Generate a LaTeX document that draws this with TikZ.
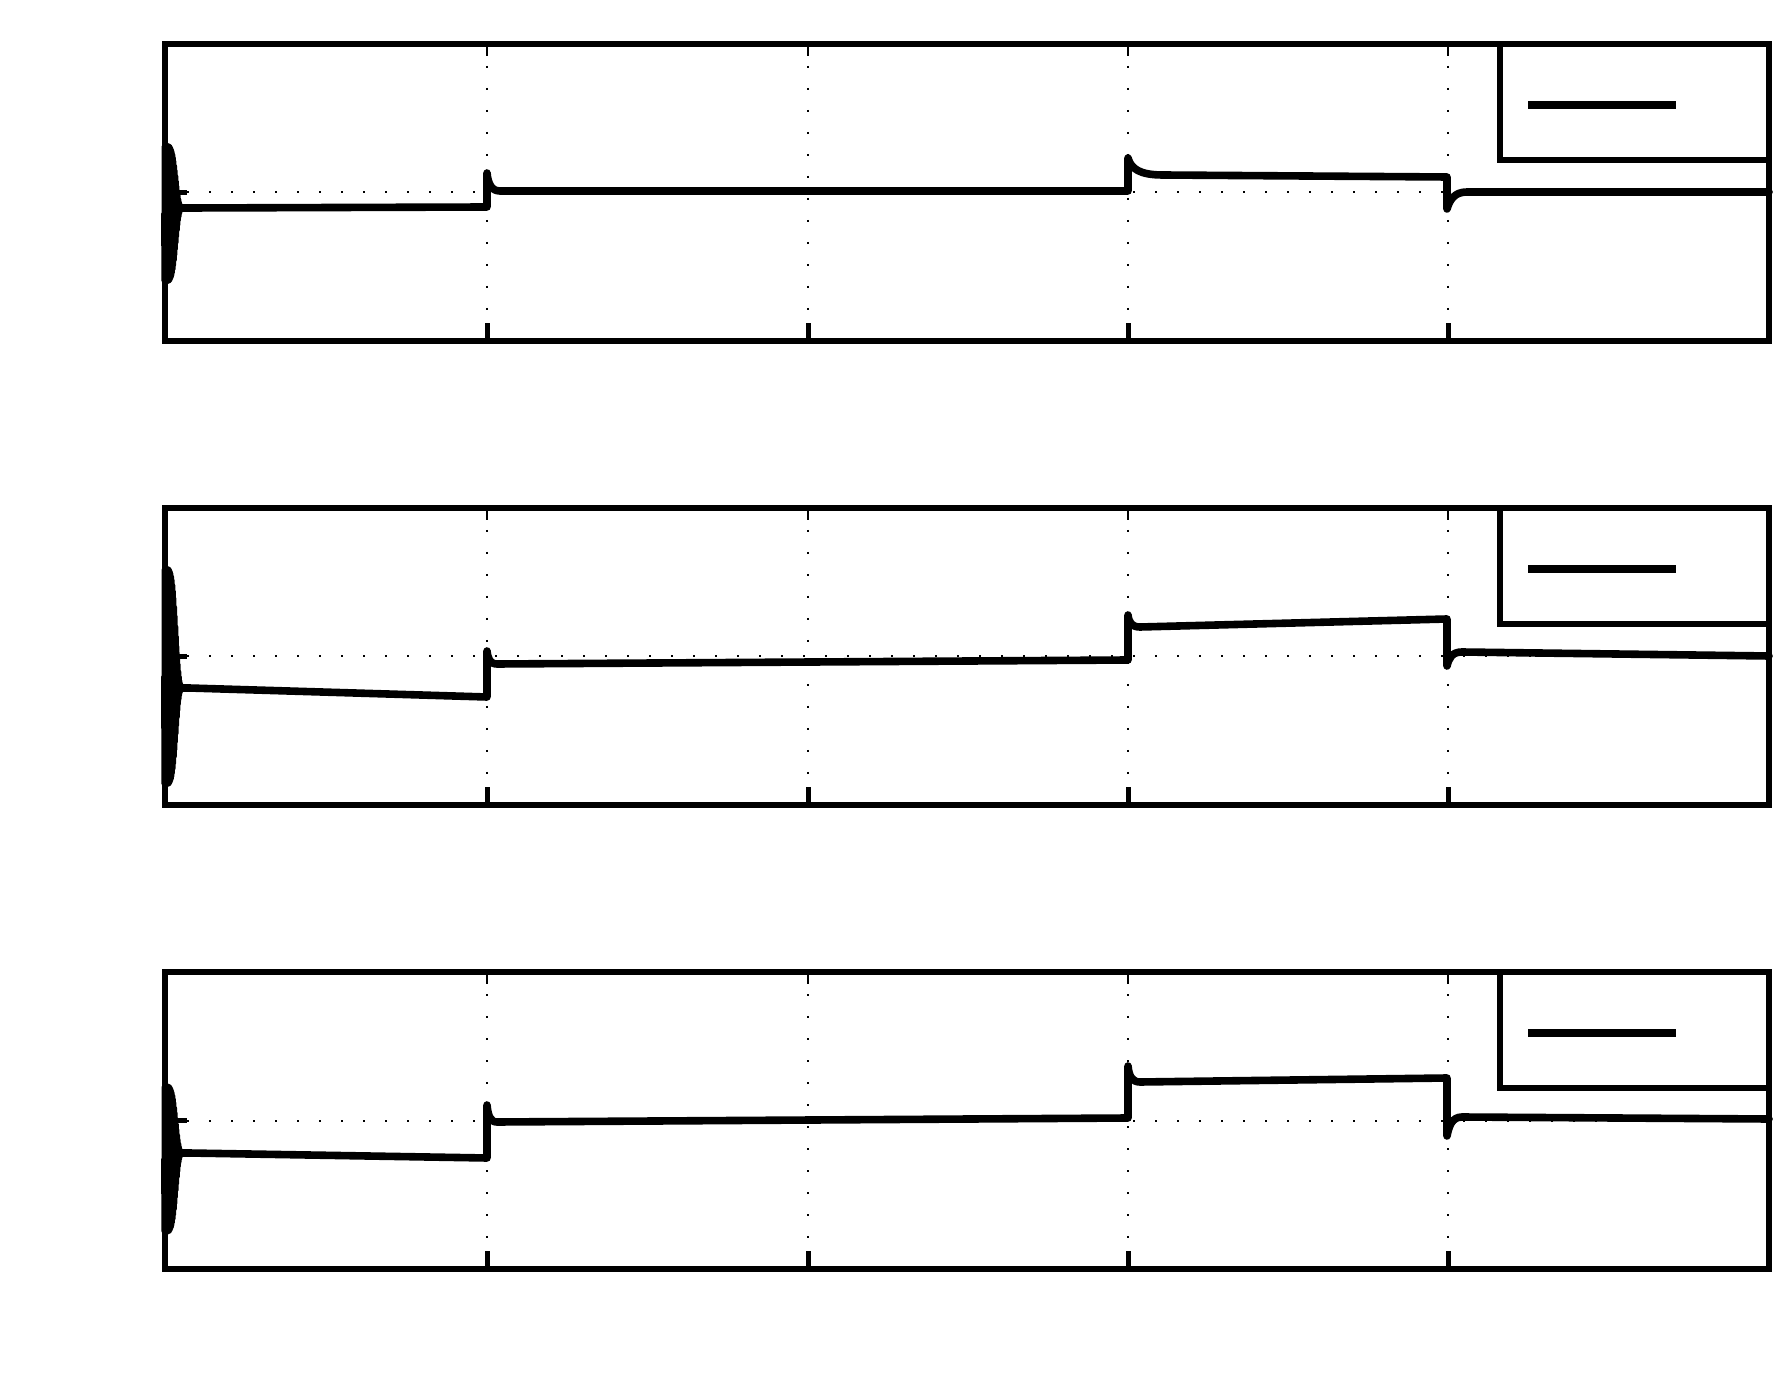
\documentclass[tikz,border=0pt]{standalone}
\usetikzlibrary{calc}

\begin{document}
\begin{tikzpicture}[%
  x=0.5pt, y=-0.5pt,
  frame/.style={line width=3.25pt, line join=miter},
  legendbox/.style={line width=3pt, line join=miter, fill=white},
  gridline/.style={line width=1pt, dash pattern=on 1pt off 10pt},
  tickmark/.style={line width=2.5pt},
  toptick/.style={line width=0.8pt},
  signal/.style={line width=3.8pt, line join=round, line cap=round},
]

  \useasboundingbox (0,0) rectangle (1784,1395);

  % dotted grid of the three panels
  \foreach \i/\t in {1/44, 2/508, 3/972} {
    \begin{scope}[shift={(0,\t)}]
      \foreach \gx in {487,808,1128,1448}
        \draw[gridline] (\gx,0) -- (\gx,297);
      \draw[gridline] (165,148.5) -- (1769,148.5);
    \end{scope}
  }

  % panel 1
  \begin{scope}[shift={(0,44)}]
    \draw[signal] plot[domain=0:24, samples=481]
        ({165+\x}, {164+exp(-(\x/10.5)^4)*(5.5+67*sin(600*\x))})
      -- (487,163) -- (487,129) .. controls (488,139) and (491,147) .. (500,147)
      -- (1128,147) -- (1128,114) .. controls (1131,125) and (1140,131) .. (1163,131)
      -- (1447,133) -- (1447,165) .. controls (1450,155) and (1455,148) .. (1467,148)
      -- (1769,148);
  \end{scope}

  % panel 2
  \begin{scope}[shift={(0,508)}]
    \draw[signal] plot[domain=0:24, samples=481]
        ({165+\x}, {180+exp(-(\x/10.5)^4)*(-11.5+107*sin(600*\x))})
      -- (487,189) -- (487,143) .. controls (488,151) and (490,156) .. (497,156)
      -- (1128,152) -- (1128,107) .. controls (1129,115) and (1132,119) .. (1140,119)
      -- (1447,111) -- (1447,158) .. controls (1449,150) and (1452,144) .. (1462,144)
      -- (1769,148);
  \end{scope}

  % panel 3
  \begin{scope}[shift={(0,972)}]
    \draw[signal] plot[domain=0:24, samples=481]
        ({165+\x}, {181+exp(-(\x/10.5)^4)*(6+72*sin(600*\x))})
      -- (487,186) -- (487,133) .. controls (488,143) and (490,150) .. (497,150)
      -- (1128,146) -- (1128,94) .. controls (1129,104) and (1132,110) .. (1140,110)
      -- (1447,106) -- (1447,164) .. controls (1449,154) and (1452,145) .. (1462,145)
      -- (1769,147);
  \end{scope}

  % axes boxes, ticks and legends
  \foreach \i/\t in {1/44, 2/508, 3/972} {
    \begin{scope}[shift={(0,\t)}]
      \coordinate (nw\i) at (165,0);
      \coordinate (se\i) at (1769,297);
      \coordinate (lgnw\i) at (1500,0);
      \coordinate (lgse\i) at (1769,116);
      \foreach \gx in {487,808,1128,1448} {
        \draw[tickmark] (\gx,297) -- (\gx,279);
        \draw[toptick] (\gx,0) -- (\gx,12);
      }
      \draw[tickmark] (165,148.5) -- (187,148.5);
      \draw[frame] (nw\i) rectangle (se\i);
      \draw[legendbox] (lgnw\i) rectangle (lgse\i);
      \draw[signal, line cap=butt] (1528,61) -- (1676,61);
    \end{scope}
  }

\end{tikzpicture}
\end{document}
